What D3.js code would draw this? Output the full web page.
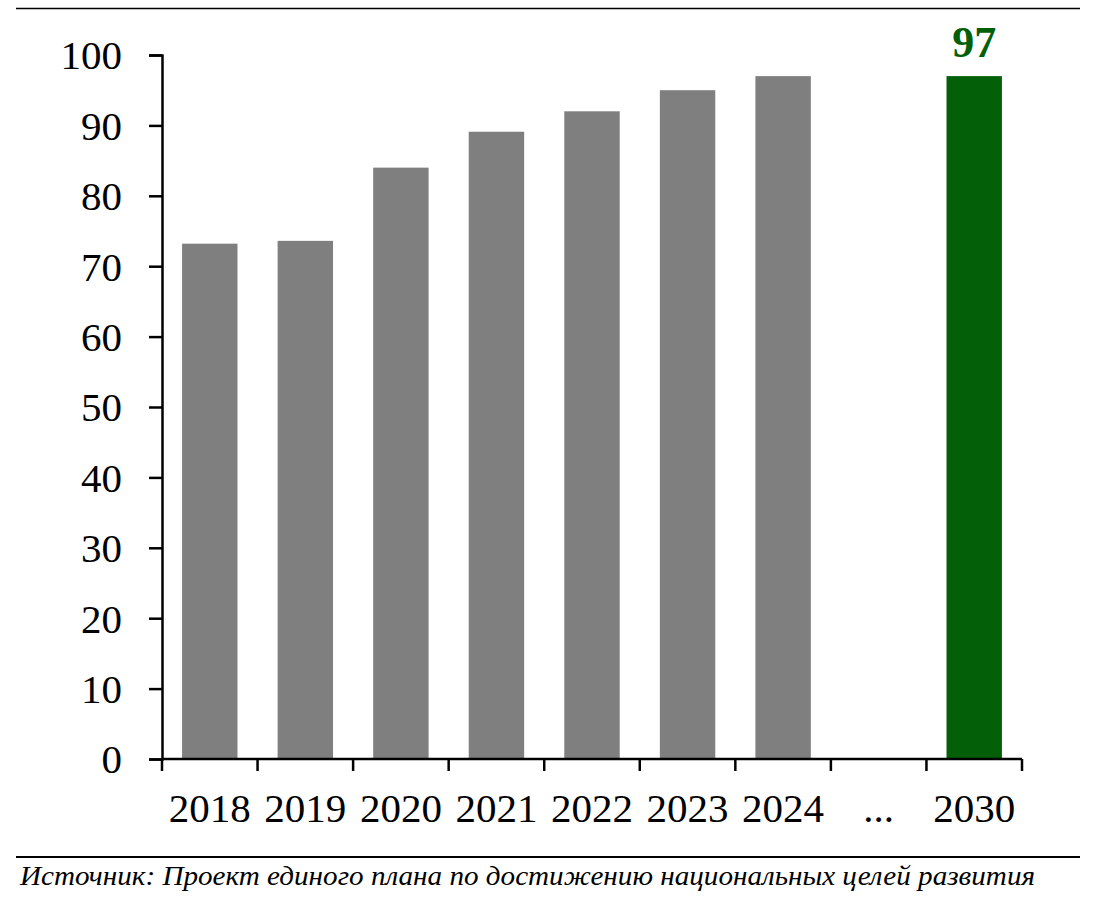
<!DOCTYPE html>
<html>
<head>
<meta charset="utf-8">
<script src="https://cdn.jsdelivr.net/npm/d3@7"></script>
<style>
  html, body { margin: 0; padding: 0; background: #fff; }
  svg { display: block; }
  text { font-family: "Liberation Serif", "DejaVu Serif", serif; }
</style>
</head>
<body>
<svg id="chart" width="1097" height="912"></svg>
<script>
// ---- data ----
const categories = ["2018", "2019", "2020", "2021", "2022", "2023", "2024", "...", "2030"];
const values     = [73.2, 73.6, 84.0, 89.1, 92.0, 95.0, 97.0, null, 97.0];
const highlight  = ["2030"];
const yTicks     = [0, 10, 20, 30, 40, 50, 60, 70, 80, 90, 100];
const sourceText = "Источник: Проект единого плана по достижению национальных целей развития";

(function () {
const data = categories.map((c, i) => ({ cat: c, value: values[i] }));

// ---- layout ----
const svg = d3.select("#chart");
const mLeft = 162, mRight = 1022, mTop = 55, mBottom = 759;

const x = d3.scaleBand().domain(categories).range([mLeft, mRight]).paddingInner(0.42).paddingOuter(0.21);
const y = d3.scaleLinear().domain([0, 100]).range([mBottom, mTop]);

// top rule
svg.append("line").attr("x1", 16).attr("x2", 1080).attr("y1", 8.5).attr("y2", 8.5)
  .attr("stroke", "#000").attr("stroke-width", 1.6);

// bars
svg.append("g").selectAll("rect")
  .data(data.filter(d => d.value != null))
  .join("rect")
  .attr("x", d => x(d.cat))
  .attr("width", x.bandwidth())
  .attr("y", d => y(d.value))
  .attr("height", d => y(0) - y(d.value))
  .attr("fill", d => highlight.includes(d.cat) ? "#035f08" : "#7f7f7f");

// value label for highlighted bar
svg.append("g").selectAll("text")
  .data(data.filter(d => highlight.includes(d.cat)))
  .join("text")
  .attr("x", d => x(d.cat) + x.bandwidth() / 2)
  .attr("y", d => y(d.value) - 19)
  .attr("text-anchor", "middle")
  .attr("font-size", 44)
  .attr("font-weight", "bold")
  .attr("fill", "#035f08")
  .text(d => d3.format(".0f")(d.value));

// y axis
const yAxis = svg.append("g")
  .attr("transform", `translate(${mLeft},0)`)
  .call(d3.axisLeft(y).tickValues(yTicks).tickSize(13).tickPadding(27).tickSizeOuter(13));
yAxis.selectAll("path, line").attr("stroke", "#000").attr("stroke-width", 2.5);
yAxis.selectAll("text").attr("font-size", 41).attr("fill", "#000")
  .attr("font-family", "Liberation Serif, serif").attr("dy", "0.34em");

// x axis (ticks at band boundaries)
const xAxisG = svg.append("g").attr("transform", `translate(0,${mBottom})`);
xAxisG.append("line").attr("x1", mLeft).attr("x2", mRight).attr("y1", 0).attr("y2", 0)
  .attr("stroke", "#000").attr("stroke-width", 2.5);
const boundaries = d3.range(categories.length + 1).map(i => mLeft + i * (mRight - mLeft) / categories.length);
xAxisG.selectAll("line.tick").data(boundaries).join("line").attr("class", "tick")
  .attr("x1", d => d).attr("x2", d => d).attr("y1", 0).attr("y2", 12)
  .attr("stroke", "#000").attr("stroke-width", 2.5);
xAxisG.selectAll("text").data(categories).join("text")
  .attr("x", d => x(d) + x.bandwidth() / 2)
  .attr("y", 63)
  .attr("text-anchor", "middle")
  .attr("font-size", 41)
  .attr("fill", "#000")
  .text(d => d);

// bottom rule
svg.append("line").attr("x1", 16).attr("x2", 1080).attr("y1", 857).attr("y2", 857)
  .attr("stroke", "#000").attr("stroke-width", 2.2);

// source
svg.append("text")
  .attr("x", 20).attr("y", 885)
  .attr("font-size", 27)
  .attr("font-style", "italic")
  .attr("fill", "#000")
  .attr("textLength", 1015)
  .attr("lengthAdjust", "spacingAndGlyphs")
  .text(sourceText);
})();
</script>
</body>
</html>
